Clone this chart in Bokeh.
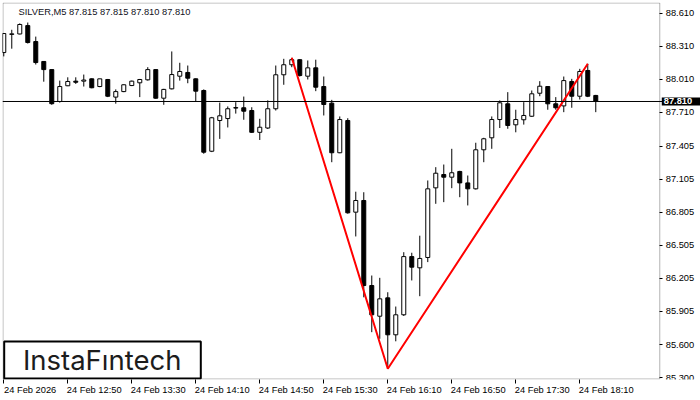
from bokeh.plotting import figure
from bokeh.models import (Range1d, FixedTicker, PrintfTickFormatter, Span, Label,
                          BoxAnnotation, ColumnDataSource)
from bokeh.embed import file_html
from bokeh.resources import INLINE

# ---------------- data ----------------
symbol = "SILVER,M5"
last_ohlc = [87.815, 87.815, 87.810, 87.810]
last_price = 87.810

opens = [88.255, 88.420, 88.424, 88.500, 88.355, 88.174, 88.100, 87.810, 87.953, 87.995,
         87.995, 88.016, 87.946, 88.010, 87.850, 87.900, 87.955, 87.980, 88.007, 88.100,
         87.840, 87.925, 88.040, 88.074, 88.016, 87.910, 87.358, 87.637, 87.655, 87.750,
         87.753, 87.728, 87.530, 87.569, 87.744, 88.053, 88.144, 88.190, 88.040, 88.116,
         87.946, 87.795, 87.344, 87.637, 86.804, 86.910, 86.137, 85.858, 86.025, 85.689,
         85.871, 86.400, 86.298, 86.392, 87.025, 87.146, 87.122, 87.174, 87.070, 87.016,
         87.371, 87.480, 87.646, 87.789, 87.598, 87.644, 87.676, 87.885, 87.946, 87.789,
         87.770, 87.992, 87.858, 88.092, 87.865]
highs = [88.430, 88.462, 88.520, 88.528, 88.400, 88.174, 88.100, 88.000, 88.030, 88.030,
         88.055, 88.020, 88.016, 88.015, 87.920, 87.965, 88.000, 88.015, 88.122, 88.100,
         87.925, 88.265, 88.162, 88.137, 88.020, 87.920, 87.670, 87.800, 87.765, 87.804,
         87.855, 87.758, 87.653, 87.820, 88.137, 88.198, 88.207, 88.195, 88.183, 88.190,
         88.037, 87.825, 87.674, 87.658, 86.990, 86.985, 86.228, 86.207, 86.076, 85.946,
         86.440, 86.435, 86.590, 87.092, 87.213, 87.237, 87.380, 87.180, 87.137, 87.435,
         87.480, 87.674, 87.820, 87.895, 87.735, 87.804, 87.910, 87.995, 87.950, 87.850,
         88.037, 88.016, 88.107, 88.153, 87.870]
lows = [88.220, 88.290, 88.420, 88.337, 88.146, 87.990, 87.780, 87.800, 87.950, 87.970,
        87.946, 87.930, 87.940, 87.850, 87.790, 87.895, 87.950, 87.850, 88.000, 87.835,
        87.780, 87.920, 88.000, 87.976, 87.810, 87.335, 87.350, 87.470, 87.574, 87.700,
        87.644, 87.525, 87.460, 87.560, 87.728, 87.962, 88.122, 88.037, 88.010, 87.904,
        87.683, 87.258, 87.340, 86.790, 86.583, 86.030, 85.713, 85.653, 85.380, 85.630,
        85.860, 86.183, 86.040, 86.350, 86.880, 86.895, 87.022, 86.940, 86.865, 87.010,
        87.258, 87.380, 87.569, 87.562, 87.530, 87.600, 87.670, 87.858, 87.735, 87.735,
        87.713, 87.753, 87.828, 87.850, 87.713]
closes = [88.428, 88.425, 88.510, 88.346, 88.164, 88.100, 87.790, 87.946, 87.992, 87.985,
          88.005, 87.935, 88.016, 87.858, 87.900, 87.962, 87.995, 88.010, 88.100, 87.840,
          87.920, 88.055, 88.083, 88.022, 87.904, 87.349, 87.662, 87.680, 87.744, 87.755,
          87.722, 87.530, 87.576, 87.744, 88.053, 88.144, 88.190, 88.046, 88.116, 87.940,
          87.783, 87.344, 87.646, 86.798, 86.910, 86.137, 85.871, 86.016, 85.689, 85.871,
          86.400, 86.304, 86.383, 87.016, 87.158, 87.122, 87.162, 87.070, 87.016, 87.371,
          87.471, 87.646, 87.798, 87.592, 87.646, 87.683, 87.880, 87.949, 87.789, 87.753,
          88.000, 87.858, 88.083, 87.858, 87.810]

time_tick_index = [0, 8, 16, 24, 32, 40, 48, 56, 64, 72]
time_tick_labels = ["24 Feb 2026", "24 Feb 12:50", "24 Feb 13:30", "24 Feb 14:10",
                    "24 Feb 14:50", "24 Feb 15:30", "24 Feb 16:10", "24 Feb 16:50",
                    "24 Feb 17:30", "24 Feb 18:10"]
price_ticks = [88.610, 88.310, 88.010, 87.710, 87.405, 87.105, 86.805, 86.505,
               86.205, 85.905, 85.600, 85.300]

# pattern: top, bottom, top (candle indices)
pattern_index = [36, 48, 73]

# ---------------- layout constants ----------------
X_START = -0.16          # left edge of the chart window (bars)
CHART_END = 82.0         # right edge of the chart window where the price scale sits
X_END = 87.09            # canvas right edge (space for price scale labels)
Y_START, Y_END = 85.2827, 88.71
FRAME_H = 377

# ---------------- build ----------------
n = len(opens)
idx = list(range(n))
bull = [c >= o for o, c in zip(opens, closes)]
src = ColumnDataSource(dict(
    x=idx, o=opens, h=highs, l=lows, c=closes,
    top=[max(o, c) for o, c in zip(opens, closes)],
    bottom=[min(o, c) for o, c in zip(opens, closes)],
    fill=["white" if b else "black" for b in bull],
))

FONT = "Liberation Sans"
FS = "9.3px"

p = figure(width=700, height=400,
           x_range=Range1d(X_START, X_END), y_range=Range1d(Y_START, Y_END),
           output_backend="svg", toolbar_location=None, y_axis_location="right",
           min_border_left=2, min_border_top=2, min_border_right=0, min_border_bottom=21,
           background_fill_color="white", border_fill_color="white",
           outline_line_color=None)
p.xgrid.visible = False
p.ygrid.visible = False

# bottom time axis: tick marks at bar positions (minor), labels left-aligned after them
label_shift = 3.3
label_pos = [t + label_shift for t in time_tick_index]
xa = p.xaxis[0]
xa.ticker = FixedTicker(ticks=label_pos, minor_ticks=time_tick_index)
xa.major_label_overrides = {pos: lab for pos, lab in zip(label_pos, time_tick_labels)}
xa.bounds = (X_START, CHART_END)
xa.major_tick_line_color = None
xa.major_tick_in = 0
xa.major_tick_out = 4
xa.minor_tick_in = 0
xa.minor_tick_out = 4
xa.minor_tick_line_color = "black"
xa.axis_line_color = None
xa.major_label_standoff = 1
xa.major_label_text_font = FONT
xa.major_label_text_font_size = FS
xa.major_label_text_color = "black"

# price scale fixed at the chart's right edge
ya = p.yaxis[0]
ya.fixed_location = CHART_END
ya.ticker = FixedTicker(ticks=price_ticks)
ya.formatter = PrintfTickFormatter(format="%.3f")
ya.major_tick_in = 0
ya.major_tick_out = 3
ya.minor_tick_line_color = None
ya.axis_line_color = None
ya.major_label_standoff = 3
ya.major_label_text_font = FONT
ya.major_label_text_font_size = FS
ya.major_label_text_color = "black"

# chart window border
p.add_layout(BoxAnnotation(left=0.5, bottom=0.5, top=FRAME_H - 0.5, right=CHART_END,
                           left_units="screen", bottom_units="screen",
                           top_units="screen", right_units="data",
                           fill_alpha=0, line_color="black", line_width=1))

# current price line
p.add_layout(Span(location=last_price, dimension="width", line_color="black", line_width=1))

# candles
p.segment(x0="x", y0="l", x1="x", y1="h", source=src, line_color="black", line_width=1)
p.vbar(x="x", width=0.5, top="top", bottom="bottom", source=src,
       fill_color="fill", line_color="black", line_width=1)

# pattern line (highs / low of the chosen candles)
pattern_y = [highs[pattern_index[0]], lows[pattern_index[1]], highs[pattern_index[2]]]
p.line(pattern_index, pattern_y, line_color="red", line_width=2)

# title
title_text = symbol + "  " + " ".join(f"{v:.3f}" for v in last_ohlc)
p.add_layout(Label(x=16, y=FRAME_H - 4, x_units="screen", y_units="screen", text=title_text,
                   text_baseline="top", text_align="left", text_font=FONT,
                   text_font_size=FS, text_color="#101020"))

# last price tag on the price scale
p.add_layout(Label(x=CHART_END, y=last_price, x_units="data", y_units="data", x_offset=2,
                   text=f"{last_price:.3f}", text_baseline="middle", text_align="left",
                   text_font=FONT, text_font_size=FS, text_font_style="bold",
                   text_color="white", background_fill_color="black",
                   padding=dict(left=2, right=10, top=1, bottom=1)))

# logo
p.add_layout(BoxAnnotation(left=1.7, right=198.3, bottom=1, top=38,
                           left_units="screen", right_units="screen",
                           top_units="screen", bottom_units="screen",
                           fill_color="white", fill_alpha=1.0,
                           line_color="black", line_width=2, line_alpha=1.0))
p.add_layout(Label(x=99.7, y=19.8, x_units="screen", y_units="screen", text="InstaFıntech",
                   text_align="center", text_baseline="middle", text_font="Inter",
                   text_font_size="27.5px", text_color="#1c1c1c"))

open("out.html", "w").write(file_html(p, INLINE))
